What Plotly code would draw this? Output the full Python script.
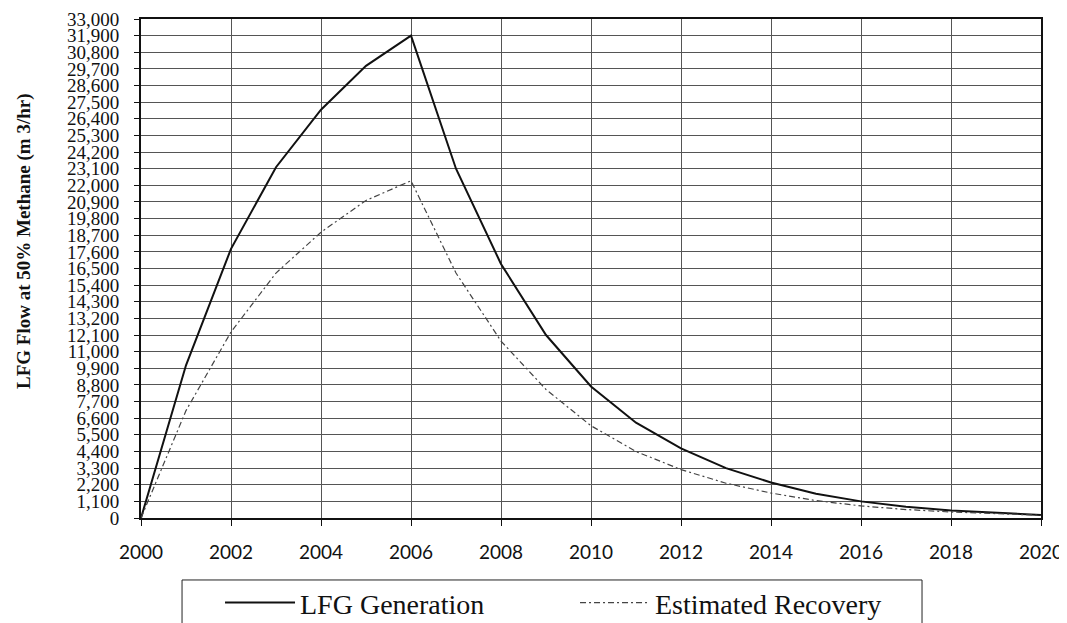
import plotly.graph_objects as go

years = list(range(2000, 2021))
lfg_generation = [0, 10100, 17800, 23200, 27000, 29900, 31900, 23100, 16800, 12100,
                  8700, 6300, 4600, 3300, 2350, 1600, 1100, 750, 500, 350, 200]
estimated_recovery = [0, 7100, 12300, 16200, 18900, 21000, 22300, 16200, 11700, 8500,
                      6100, 4400, 3200, 2300, 1650, 1150, 800, 560, 400, 280, 180]
y_ticks = list(range(0, 33001, 1100))
y_tick_text = [f"{v:,}" for v in y_ticks]
x_ticks = list(range(2000, 2021, 2))

serif = "Liberation Serif, Times New Roman, serif"

# page body has an 8px default margin, so the figure is sized/offset to compensate
fig = go.Figure()
fig.add_trace(go.Scatter(x=years, y=lfg_generation, mode="lines", name="LFG Generation",
                         line=dict(color="#111111", width=2)))
fig.add_trace(go.Scatter(x=years, y=estimated_recovery, mode="lines", name="Estimated Recovery",
                         line=dict(color="#444444", width=1.2, dash="6px,3px,2px,3px")))

fig.update_layout(
    width=1059, height=615,
    margin=dict(l=133, r=26, t=11, b=105, autoexpand=False),
    paper_bgcolor="white", plot_bgcolor="white",
    font=dict(family=serif, color="#111111", size=17),
    showlegend=True,
    legend=dict(orientation="h", x=0.0878, xanchor="left", y=-0.12, yanchor="top",
                borderwidth=0, bgcolor="rgba(0,0,0,0)",
                font=dict(size=28, family=serif), entrywidth=270,
                itemwidth=70),
    shapes=[dict(type="rect", xref="paper", yref="paper",
                 x0=0.0456, x1=0.8678, y0=-0.1242, y1=-0.35,
                 line=dict(color="#222222", width=1), fillcolor="rgba(0,0,0,0)",
                 layer="below")],
    annotations=[dict(text="<b>LFG Flow at 50% Methane (m 3/hr)</b>", xref="paper", yref="paper",
                      x=(24 - 141) / 900, y=(518 - 241) / 499, textangle=-90,
                      showarrow=False, font=dict(size=19, family=serif),
                      xanchor="center", yanchor="middle")],
)
fig.update_xaxes(range=[2000, 2020], tickvals=x_ticks, ticks="outside", ticklen=6,
                 tickcolor="#111111", showline=True, linecolor="#111111", linewidth=2,
                 mirror=True, showgrid=True, gridcolor="#555555", gridwidth=1,
                 zeroline=False, tickfont=dict(size=19, family="Lato, Open Sans, sans-serif"),
                 ticklabelstandoff=10, automargin=False)
fig.update_yaxes(range=[0, 33000], tickvals=y_ticks, ticktext=y_tick_text, ticks="outside",
                 ticklen=5, tickcolor="#111111", showline=True, linecolor="#111111",
                 linewidth=2, mirror=True, showgrid=True, gridcolor="#555555", gridwidth=1,
                 zeroline=False, tickfont=dict(size=19, family=serif),
                 ticklabelstandoff=11, automargin=False)

fig.write_html("out.html")
